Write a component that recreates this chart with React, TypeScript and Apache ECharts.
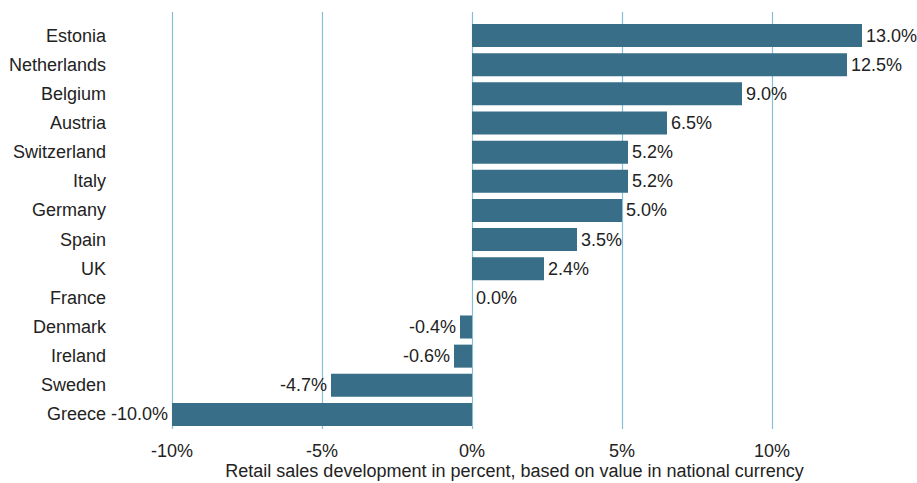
import React, { useEffect, useRef } from "react";
import * as echarts from "echarts";

const categories = ["Estonia", "Netherlands", "Belgium", "Austria", "Switzerland", "Italy", "Germany", "Spain", "UK", "France", "Denmark", "Ireland", "Sweden", "Greece"];
const values = [13.0, 12.5, 9.0, 6.5, 5.2, 5.2, 5.0, 3.5, 2.4, 0.0, -0.4, -0.6, -4.7, -10.0];
const ticks = [-10, -5, 0, 5, 10];
const axisTitle = "Retail sales development in percent, based on value in national currency";

const FONT = "'Liberation Sans', Arial, sans-serif";
const BAR = "#386e88";
const LINE = "#86c0d4";
const TEXT = "#222222";

export default function App() {
  const ref = useRef<HTMLDivElement>(null);
  useEffect(() => {
    if (!ref.current) return;
    const chart = echarts.init(ref.current, null, { renderer: "svg" });
    chart.setOption({
      animation: false,
      grid: { left: 172, right: 55, top: 21, bottom: 54, containLabel: false, outerBoundsMode: "none" },
      xAxis: {
        type: "value",
        min: -10,
        max: 13,
        interval: 5,
        axisLine: { show: false },
        axisTick: { show: false },
        splitLine: { show: false },
        axisLabel: {
          margin: 13,
          fontSize: 18,
          lineHeight: 18,
          fontFamily: FONT,
          color: TEXT,
          formatter: (v: number) => (ticks.includes(v) ? `${v}%` : ""),
        },
        name: axisTitle,
        nameLocation: "middle",
        nameGap: 33,
        nameMoveOverlap: false,
        nameTextStyle: { fontSize: 18, lineHeight: 18, fontFamily: FONT, color: TEXT, padding: [0, 5, 0, 0] },
      },
      yAxis: {
        type: "category",
        data: categories,
        inverse: true,
        axisLine: { show: false },
        axisTick: { show: false },
        splitLine: { show: false },
        axisLabel: { margin: 66, fontSize: 18, fontFamily: FONT, color: TEXT },
      },
      series: [
        {
          type: "bar",
          barCategoryGap: "21%",
          z: 2,
          itemStyle: { color: BAR },
          data: values.map((v) => ({
            value: v,
            label: { position: v < 0 ? "left" : "right" },
          })),
          label: {
            show: true,
            distance: 4,
            fontSize: 18,
            fontFamily: FONT,
            color: TEXT,
            formatter: (p: any) => `${Number(p.value).toFixed(1)}%`,
          },
        },
      ],
    });
    const lines = ticks.map((t) => {
      const x = Math.round(chart.convertToPixel({ xAxisIndex: 0 }, t) as number) + 0.5;
      return {
        type: "line",
        z: 0,
        silent: true,
        shape: { x1: x, y1: 12, x2: x, y2: 429 },
        style: { stroke: LINE, lineWidth: 1.2 },
      };
    });
    chart.setOption({ graphic: lines });
    return () => chart.dispose();
  }, []);
  return (
    <div
      ref={ref}
      style={{ position: "fixed", left: 0, top: 0, width: 917, height: 483, background: "#fff" }}
    />
  );
}
